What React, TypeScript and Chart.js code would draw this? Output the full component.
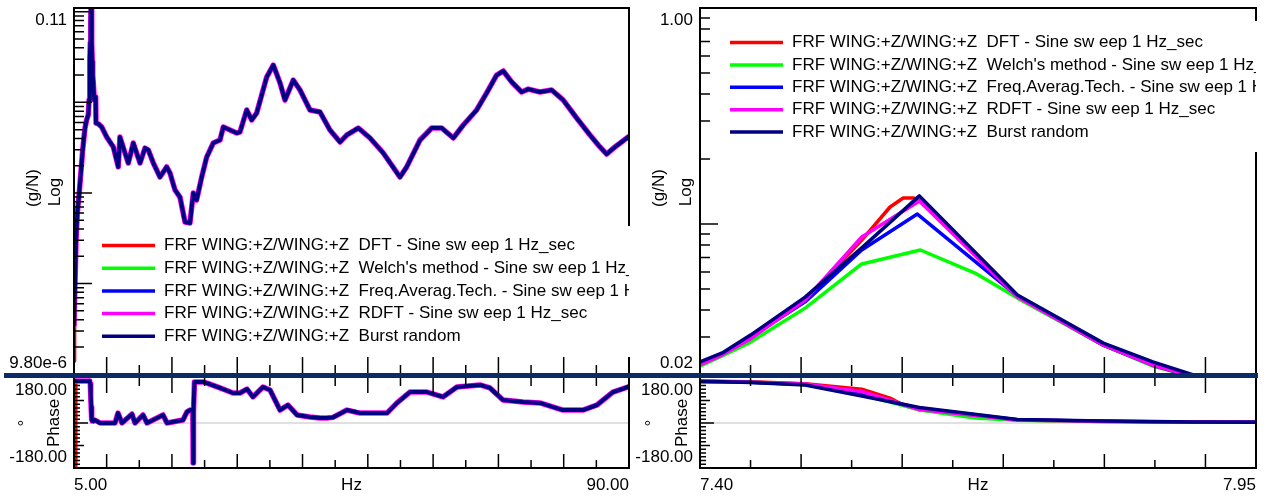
import React, { useEffect, useRef } from "react";
import { Chart, registerables } from "chart.js";

Chart.register(...registerables);

const FONT = '17px "Liberation Sans", Arial, Helvetica, sans-serif';

// ---------------- shared ----------------
const seriesLabels = [
  "FRF WING:+Z/WING:+Z  DFT - Sine sw eep 1 Hz_sec",
  "FRF WING:+Z/WING:+Z  Welch's method - Sine sw eep 1 Hz_sec",
  "FRF WING:+Z/WING:+Z  Freq.Averag.Tech. - Sine sw eep 1 Hz_sec",
  "FRF WING:+Z/WING:+Z  RDFT - Sine sw eep 1 Hz_sec",
  "FRF WING:+Z/WING:+Z  Burst random",
];
const seriesColors = ["#ff0000", "#00ff00", "#0000ff", "#ff00ff", "#000080"];
const magTitles = ["(g/N)", "Log"];
const phaseTitles = ["\u00B0", "Phase"];
const phaseTickLabels = ["180.00", "-180.00"];
const phaseRange = [-240, 240];

// ---------------- left panel: 5 - 90 Hz ----------------
const leftRange = [5, 90];
const leftXLabels = ["5.00", "Hz", "90.00"];
const leftMajorTicks = [10, 20, 30, 40, 50, 60, 70, 80];
const leftMinorTicks = [15, 25, 35, 45, 55, 65, 75, 85];
const leftMagRange = [9.8e-6, 0.11];
const leftMagLabels = ["0.11", "9.80e-6"];

const leftFreq = [
  5.0, 5.31, 5.51, 5.81, 6.33, 6.68, 6.94, 7.19, 7.3, 7.4,
  7.45, 7.5, 7.56, 7.62, 7.71, 7.8, 7.85, 7.89, 7.96, 8.11,
  8.32, 8.37, 8.72, 9.24, 10.0, 11.02, 11.78, 12.04, 12.81, 13.32,
  14.08, 15.11, 15.87, 16.38, 17.15, 18.17, 19.19, 19.7, 20.47, 21.23,
  22.0, 22.76, 23.27, 23.78, 24.56, 25.32, 26.33, 27.36, 27.87, 28.89,
  29.91, 30.42, 31.45, 32.21, 32.98, 34.51, 35.52, 36.55, 37.31, 38.58,
  39.61, 41.14, 42.67, 44.2, 45.74, 46.76, 48.54, 50.33, 52.37, 54.92,
  55.95, 57.99, 59.78, 61.31, 63.09, 64.62, 66.67, 68.2, 69.73, 70.74,
  72.03, 73.56, 74.57, 76.36, 78.15, 79.93, 81.98, 84.02, 85.55, 86.58,
  87.85, 89.89, 90.0,
];
const leftMag = [
  3.5e-5, 3.0e-4, 6.0e-4, 1.02e-3, 2.98e-3, 5.2e-3, 6.4e-3, 7.3e-3, 1.06e-2, 0.023,
  0.03, 0.046, 0.078, 0.135, 0.047, 0.028, 0.023, 0.02, 0.0164, 0.0106,
  0.0115, 0.0059, 0.0058, 0.00535, 0.00415, 0.00322, 0.00194, 0.00415, 0.00276, 0.00214,
  0.00356, 0.00214, 0.00313, 0.00298, 0.00214, 0.0015, 0.00194, 0.00166, 0.00108, 0.0009,
  0.000478, 0.000466, 0.001, 0.000836, 0.0015, 0.00249, 0.00356, 0.00384, 0.00535, 0.00495,
  0.00459, 0.00471, 0.00824, 0.00639, 0.00763, 0.019, 0.0258, 0.0164, 0.0106, 0.0176,
  0.0137, 0.00824, 0.00783, 0.00495, 0.00365, 0.00436, 0.00521, 0.00404, 0.00276, 0.0015,
  0.00194, 0.00384, 0.00521, 0.00521, 0.00404, 0.00563, 0.00824, 0.0127, 0.02, 0.0222,
  0.0168, 0.013, 0.014, 0.013, 0.0137, 0.0106, 0.00672, 0.00436, 0.00322, 0.00269,
  0.00322, 0.00415, 0.0042,
];
const leftRedStartFreq = [5.0, 5.05];
const leftRedStartMag = [1.4e-5, 6.0e-5];

const leftPhaseFreq = [
  5.0, 7.3, 7.4, 7.5, 7.56, 7.62, 7.71, 7.8, 7.95, 8.2,
  8.98, 11.28, 11.74, 12.35, 13.88, 14.34, 15.57, 16.18, 18.63, 19.24,
  21.69, 22.3, 22.76, 23.2, 23.25, 23.3, 23.45, 24.75, 25.37, 27.36,
  29.35, 30.42, 31.49, 32.41, 33.94, 35.02, 36.55, 37.77, 39.15, 41.14,
  42.67, 43.74, 44.66, 46.81, 48.8, 52.93, 54.46, 56.45, 59.06, 61.51,
  63.65, 67.17, 68.71, 70.7, 73.76, 76.36, 79.89, 82.95, 85.09, 87.54,
  89.84, 90.0,
];
const leftPhase = [
  224, 224, 222, 208, 144, 85, 19, 11, 10, 16,
  0, 0, 53, 0, 48, 0, 43, 0, 43, 0,
  16, 59, 69, 69, -213, 60, 219, 219, 213, 187,
  160, 160, 181, 139, 192, 176, 69, 96, 43, 32,
  27, 27, 30, 69, 53, 53, 107, 165, 165, 139,
  192, 203, 187, 123, 112, 107, 69, 69, 96, 165,
  192, 195,
];
const leftRedPhaseStartFreq = [5.0, 5.03, 5.06, 5.09, 5.12, 5.15, 5.18, 5.21, 5.24, 5.27];
const leftRedPhaseStart = [-230, 215, -235, 225, -225, 210, -230, 220, -200, 224];

// ---------------- right panel: 7.40 - 7.95 Hz ----------------
const rightRange = [7.4, 7.95];
const rightXLabels = ["7.40", "Hz", "7.95"];
const rightMajorTicks = [7.5, 7.6, 7.7, 7.8, 7.9];
const rightMinorTicks = [7.45, 7.55, 7.65, 7.75, 7.85];
const rightMagRange = [0.02, 1.0];
const rightMagLabels = ["1.00", "0.02"];

const rightFreqRed = [7.4, 7.422, 7.45, 7.504, 7.56, 7.588, 7.601, 7.611, 7.617, 7.714, 7.799, 7.848, 7.888, 7.95];
const rightFreqGreen = [7.4, 7.422, 7.45, 7.504, 7.56, 7.618, 7.672, 7.714, 7.799, 7.848, 7.888, 7.95];
const rightFreqBlue = [7.4, 7.422, 7.45, 7.504, 7.56, 7.615, 7.714, 7.799, 7.848, 7.888, 7.95];
const rightFreqMagenta = [7.4, 7.422, 7.45, 7.504, 7.56, 7.617, 7.714, 7.799, 7.848, 7.888, 7.95];
const rightFreqNavy = [7.4, 7.422, 7.45, 7.504, 7.56, 7.617, 7.714, 7.799, 7.848, 7.888, 7.95];

const rightMagRed = [0.0227, 0.025, 0.03, 0.0445, 0.0843, 0.1199, 0.132, 0.132, 0.129, 0.0459, 0.0275, 0.0222, 0.0196, 0.017];
const rightMagGreen = [0.022, 0.0245, 0.0284, 0.0408, 0.0653, 0.0758, 0.0593, 0.0454, 0.0275, 0.022, 0.0196, 0.017];
const rightMagBlue = [0.0225, 0.025, 0.03, 0.0436, 0.0758, 0.1112, 0.0464, 0.0275, 0.0222, 0.0196, 0.017];
const rightMagMagenta = [0.0223, 0.0248, 0.0294, 0.0445, 0.0871, 0.1278, 0.0459, 0.0275, 0.0222, 0.0197, 0.017];
const rightMagNavy = [0.023, 0.0253, 0.0306, 0.0459, 0.0775, 0.135, 0.0469, 0.0281, 0.023, 0.02, 0.017];

const rightPhaseRed = [224, 222, 220, 210, 180, 133, 96, 80, 70, 16, 8, 6, 5, 4];
const rightPhaseGreen = [222, 220, 217, 205, 150, 69, 27, 14, 8, 6, 5, 4];
const rightPhaseBlue = [222, 220, 217, 205, 152, 80, 18, 10, 7, 5, 4];
const rightPhaseMagenta = [223, 221, 218, 208, 168, 72, 16, 9, 6, 5, 4];
const rightPhaseNavy = [222, 220, 216, 203, 144, 83, 19, 11, 8, 5, 4];

// ---------------- specs ----------------
type Series = { label: string; color: string; xs: number[]; ys: number[]; width: number };
type Legend = { boxX: number; boxY: number; boxH: number; lineX1: number; lineX2: number; textX: number; rowY: number; rowDY: number };
type Spec = {
  kind: "mag" | "phase";
  xRange: number[];
  yRange: number[];
  padding: { left: number; top: number; right: number; bottom: number };
  majorX: number[];
  minorX: number[];
  series: Series[];
  yLabels: string[];
  xLabels?: string[];
  titles: string[];
  titleX: number[];
  legend?: Legend;
};

const mk = (xsList: number[][], ysList: number[][], width: number, magentaExtra: number): Series[] =>
  xsList.map((xs, i) => ({
    label: seriesLabels[i],
    color: seriesColors[i],
    xs,
    ys: ysList[i],
    width: i === 3 ? width + magentaExtra : width,
  }));

const leftMagSpec: Spec = {
  kind: "mag",
  xRange: leftRange,
  yRange: leftMagRange,
  padding: { left: 74, top: 8, right: 11, bottom: 3 },
  majorX: leftMajorTicks,
  minorX: leftMinorTicks,
  series: mk(
    [[...leftRedStartFreq, ...leftFreq.slice(1)], leftFreq, leftFreq, leftFreq, leftFreq],
    [[...leftRedStartMag, ...leftMag.slice(1)], leftMag, leftMag, leftMag, leftMag],
    4,
    1.5
  ),
  yLabels: leftMagLabels,
  titles: magTitles,
  titleX: [33, 55],
  legend: { boxX: 95, boxY: 226, boxH: 131, lineX1: 102, lineX2: 155, textX: 164, rowY: 245.5, rowDY: 22.7 },
};

const leftPhaseSpec: Spec = {
  kind: "phase",
  xRange: leftRange,
  yRange: phaseRange,
  padding: { left: 74, top: 0, right: 11, bottom: 29 },
  majorX: leftMajorTicks,
  minorX: leftMinorTicks,
  series: mk(
    [[...leftRedPhaseStartFreq, ...leftPhaseFreq.slice(1)], leftPhaseFreq, leftPhaseFreq, leftPhaseFreq, leftPhaseFreq],
    [[...leftRedPhaseStart, ...leftPhase.slice(1)], leftPhase, leftPhase, leftPhase, leftPhase],
    4,
    1.5
  ),
  yLabels: phaseTickLabels,
  xLabels: leftXLabels,
  titles: phaseTitles,
  titleX: [25, 54],
};

const rightMagSpec: Spec = {
  kind: "mag",
  xRange: rightRange,
  yRange: rightMagRange,
  padding: { left: 70, top: 8, right: 14, bottom: 3 },
  majorX: rightMajorTicks,
  minorX: rightMinorTicks,
  series: mk(
    [rightFreqRed, rightFreqGreen, rightFreqBlue, rightFreqMagenta, rightFreqNavy],
    [rightMagRed, rightMagGreen, rightMagBlue, rightMagMagenta, rightMagNavy],
    3.5,
    0
  ),
  yLabels: rightMagLabels,
  titles: magTitles,
  titleX: [29, 56],
  legend: { boxX: 88, boxY: 21, boxH: 131, lineX1: 100, lineX2: 153, textX: 162, rowY: 42.5, rowDY: 22.4 },
};

const rightPhaseSpec: Spec = {
  kind: "phase",
  xRange: rightRange,
  yRange: phaseRange,
  padding: { left: 70, top: 0, right: 14, bottom: 29 },
  majorX: rightMajorTicks,
  minorX: rightMinorTicks,
  series: mk(
    [rightFreqRed, rightFreqGreen, rightFreqBlue, rightFreqMagenta, rightFreqNavy],
    [rightPhaseRed, rightPhaseGreen, rightPhaseBlue, rightPhaseMagenta, rightPhaseNavy],
    3.5,
    0
  ),
  yLabels: phaseTickLabels,
  xLabels: rightXLabels,
  titles: phaseTitles,
  titleX: [22, 52],
};

// ---------------- drawing ----------------
function rotText(ctx: CanvasRenderingContext2D, text: string, x: number, y: number) {
  ctx.save();
  ctx.translate(x, y);
  ctx.rotate(-Math.PI / 2);
  ctx.textAlign = "center";
  ctx.textBaseline = "middle";
  ctx.fillText(text, 0, 0);
  ctx.restore();
}

function overlayPlugin(spec: Spec) {
  return {
    id: "overlay",
    beforeDatasetsDraw(chart: any) {
      if (spec.kind !== "phase") return;
      const ctx = chart.ctx as CanvasRenderingContext2D;
      const a = chart.chartArea;
      const y0 = chart.scales.y.getPixelForValue(0);
      ctx.save();
      ctx.strokeStyle = "#d6d6d6";
      ctx.lineWidth = 1.5;
      ctx.beginPath();
      ctx.moveTo(a.left, y0);
      ctx.lineTo(a.right, y0);
      ctx.stroke();
      ctx.restore();
    },
    afterDatasetsDraw(chart: any) {
      const ctx = chart.ctx as CanvasRenderingContext2D;
      const a = chart.chartArea;
      const sx = chart.scales.x;
      const sy = chart.scales.y;
      ctx.save();
      ctx.strokeStyle = "#000";
      ctx.fillStyle = "#000";
      ctx.lineWidth = 2;
      ctx.beginPath();
      if (spec.kind === "mag") {
        ctx.moveTo(a.left, a.bottom);
        ctx.lineTo(a.left, a.top);
        ctx.lineTo(a.right, a.top);
        ctx.lineTo(a.right, a.bottom);
      } else {
        ctx.moveTo(a.left, a.top);
        ctx.lineTo(a.left, a.bottom);
        ctx.lineTo(a.right, a.bottom);
        ctx.lineTo(a.right, a.top);
      }
      ctx.stroke();

      ctx.lineWidth = 1.5;
      ctx.beginPath();
      const xt = (v: number, major: boolean) => {
        const x = sx.getPixelForValue(v);
        if (spec.kind === "mag") {
          ctx.moveTo(x, a.bottom);
          ctx.lineTo(x, a.bottom - (major ? 18 : 10));
        } else {
          ctx.moveTo(x, a.top);
          ctx.lineTo(x, a.top + (major ? 15 : 8));
          ctx.moveTo(x, a.bottom);
          ctx.lineTo(x, a.bottom - (major ? 14 : 8));
        }
      };
      spec.majorX.forEach((v) => xt(v, true));
      spec.minorX.forEach((v) => xt(v, false));
      if (spec.kind === "mag") {
        const lo = Math.floor(Math.log10(spec.yRange[0]));
        const hi = Math.ceil(Math.log10(spec.yRange[1]));
        for (let e = lo; e <= hi; e++) {
          for (let k = 1; k <= 9; k++) {
            const v = k * Math.pow(10, e);
            if (v < spec.yRange[0] * 0.999 || v > spec.yRange[1] * 1.001) continue;
            const y = sy.getPixelForValue(v);
            ctx.moveTo(a.left, y);
            ctx.lineTo(a.left + (k === 1 ? 18 : 10), y);
          }
        }
      } else {
        for (let v = -220; v <= 220; v += 20) {
          const y = sy.getPixelForValue(v);
          const len = v === 0 ? 14 : v % 120 === 0 ? 10 : 6;
          ctx.moveTo(a.left, y);
          ctx.lineTo(a.left + len, y);
        }
      }
      ctx.stroke();

      ctx.font = FONT;
      ctx.textBaseline = "middle";
      ctx.textAlign = "right";
      if (spec.kind === "mag") {
        ctx.fillText(spec.yLabels[0], a.left - 7, a.top + 12);
        ctx.fillText(spec.yLabels[1], a.left - 7, a.bottom - 12);
        rotText(ctx, spec.titles[0], spec.titleX[0], 188);
        rotText(ctx, spec.titles[1], spec.titleX[1], 192);
      } else {
        ctx.fillText(spec.yLabels[0], a.left - 7, sy.getPixelForValue(180) + 1);
        ctx.fillText(spec.yLabels[1], a.left - 7, sy.getPixelForValue(-180) + 1);
        const y0 = sy.getPixelForValue(0);
        rotText(ctx, spec.titles[0], spec.titleX[0], y0);
        rotText(ctx, spec.titles[1], spec.titleX[1], y0);
        if (spec.xLabels) {
          const ly = a.bottom + 17;
          ctx.textAlign = "left";
          ctx.fillText(spec.xLabels[0], a.left, ly);
          ctx.textAlign = "center";
          ctx.fillText(spec.xLabels[1], (a.left + a.right) / 2, ly);
          ctx.textAlign = "right";
          ctx.fillText(spec.xLabels[2], a.right, ly);
        }
      }

      if (spec.legend) {
        const L = spec.legend;
        ctx.fillStyle = "#fff";
        ctx.fillRect(L.boxX, L.boxY, a.right + 2 - L.boxX, L.boxH);
        ctx.save();
        ctx.beginPath();
        ctx.rect(L.boxX, L.boxY, a.right - L.boxX, L.boxH);
        ctx.clip();
        spec.series.forEach((s, i) => {
          const y = L.rowY + i * L.rowDY;
          ctx.strokeStyle = s.color;
          ctx.lineWidth = 3.5;
          ctx.beginPath();
          ctx.moveTo(L.lineX1, y);
          ctx.lineTo(L.lineX2, y);
          ctx.stroke();
          ctx.fillStyle = "#000";
          ctx.textAlign = "left";
          ctx.textBaseline = "middle";
          ctx.fillText(s.label, L.textX, y);
        });
        ctx.restore();
      }
      ctx.restore();
    },
  };
}

function PlotCanvas({ spec, left, top, width, height }: { spec: Spec; left: number; top: number; width: number; height: number }) {
  const ref = useRef<HTMLCanvasElement | null>(null);
  useEffect(() => {
    if (!ref.current) return;
    const n = spec.series.length;
    const chart = new Chart(ref.current, {
      type: "line",
      data: {
        datasets: spec.series.map((s, i) => ({
          label: s.label,
          data: s.xs.map((x, j) => ({ x, y: s.ys[j] })),
          borderColor: s.color,
          backgroundColor: s.color,
          borderWidth: s.width,
          pointRadius: 0,
          fill: false,
          tension: 0,
          order: n - 1 - i,
          borderJoinStyle: "round",
          borderCapStyle: "round",
        })),
      },
      options: {
        animation: false,
        responsive: false,
        devicePixelRatio: 1,
        events: [],
        layout: { padding: spec.padding },
        scales: {
          x: { type: "linear", min: spec.xRange[0], max: spec.xRange[1], display: false },
          y: {
            type: spec.kind === "mag" ? "logarithmic" : "linear",
            min: spec.yRange[0],
            max: spec.yRange[1],
            display: false,
          },
        },
        plugins: { legend: { display: false }, tooltip: { enabled: false } },
      },
      plugins: [overlayPlugin(spec)],
    } as any);
    return () => chart.destroy();
  }, [spec]);
  return (
    <canvas
      ref={ref}
      width={width}
      height={height}
      style={{ position: "absolute", left, top, width, height }}
    />
  );
}

export default function App() {
  return (
    <div
      style={{
        position: "absolute",
        left: 0,
        top: 0,
        width: 1270,
        height: 497,
        background: "#fff",
        overflow: "hidden",
      }}
    >
      <PlotCanvas spec={leftMagSpec} left={0} top={0} width={640} height={378} />
      <PlotCanvas spec={leftPhaseSpec} left={0} top={378} width={640} height={119} />
      <PlotCanvas spec={rightMagSpec} left={630} top={0} width={640} height={378} />
      <PlotCanvas spec={rightPhaseSpec} left={630} top={378} width={640} height={119} />
      <div style={{ position: "absolute", left: 4, top: 373, width: 1254, height: 5, background: "#0a2a68" }} />
    </div>
  );
}
